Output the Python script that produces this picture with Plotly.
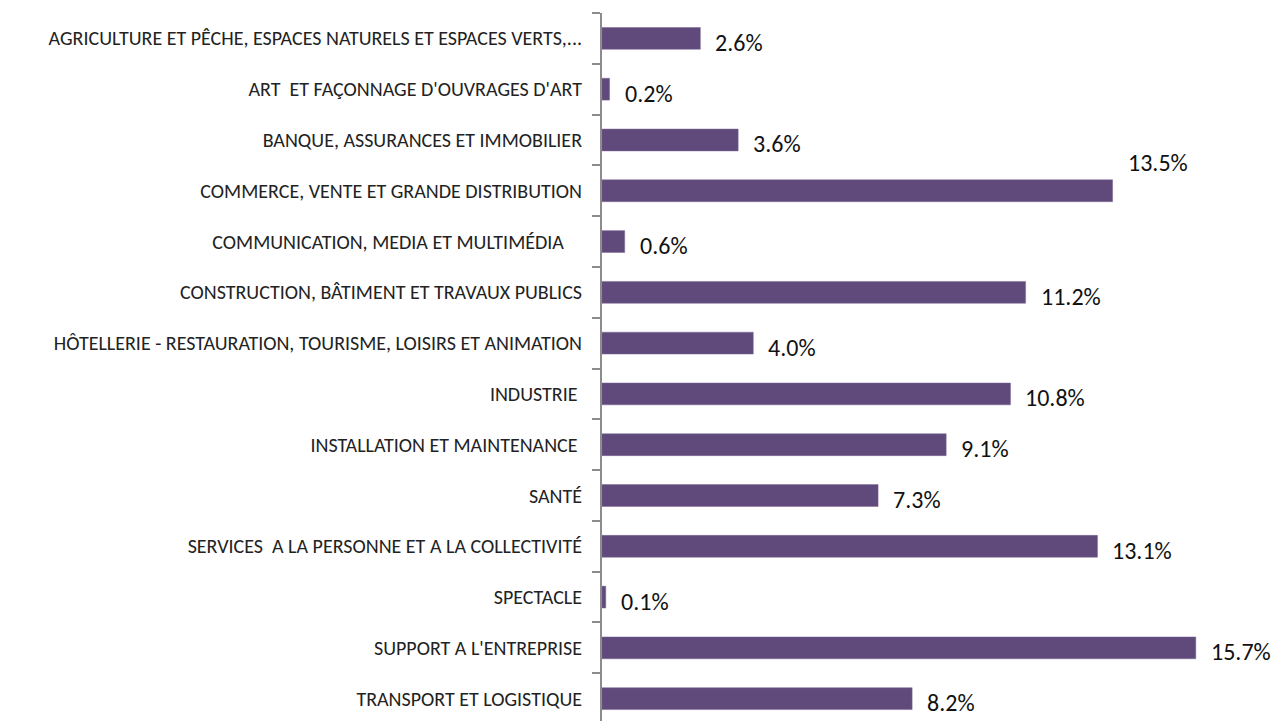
import plotly.graph_objects as go

categories = [
    "AGRICULTURE ET PÊCHE, ESPACES NATURELS ET ESPACES VERTS,...",
    "ART  ET FAÇONNAGE D'OUVRAGES D'ART",
    "BANQUE, ASSURANCES ET IMMOBILIER",
    "COMMERCE, VENTE ET GRANDE DISTRIBUTION",
    "COMMUNICATION, MEDIA ET MULTIMÉDIA    ",
    "CONSTRUCTION, BÂTIMENT ET TRAVAUX PUBLICS",
    "HÔTELLERIE - RESTAURATION, TOURISME, LOISIRS ET ANIMATION",
    "INDUSTRIE ",
    "INSTALLATION ET MAINTENANCE ",
    "SANTÉ",
    "SERVICES  A LA PERSONNE ET A LA COLLECTIVITÉ",
    "SPECTACLE",
    "SUPPORT A L'ENTREPRISE",
    "TRANSPORT ET LOGISTIQUE",
]
values = [2.6, 0.2, 3.6, 13.5, 0.6, 11.2, 4.0, 10.8, 9.1, 7.3, 13.1, 0.1, 15.7, 8.2]
label_text = [f"{v:.1f}%" for v in values]
label_yshift = [-4, -4, -4, 28, -4, -4, -4, -4, -4, -4, -4, -4, -4, -4]

FONT = "Carlito, Calibri, Lato, sans-serif"

fig = go.Figure()
fig.add_trace(go.Bar(
    x=values, y=categories, orientation="h",
    marker=dict(color="#604a7b", line=dict(color="#7a6694", width=0.5)),
    width=0.43, hoverinfo="skip",
))

for c, v, t, ys in zip(categories, values, label_text, label_yshift):
    fig.add_annotation(
        x=v, y=c, text=t, showarrow=False, xanchor="left", yanchor="middle",
        xshift=13, yshift=ys,
        font=dict(family=FONT, size=24, color="#111"),
    )

fig.update_layout(
    width=1271, height=713,
    margin=dict(l=594, r=0, t=5, b=0),
    paper_bgcolor="white", plot_bgcolor="white",
    showlegend=False,
    xaxis=dict(range=[0, 17.9], visible=False, showgrid=False, zeroline=False),
    yaxis=dict(
        type="category", range=[13.44, -0.5], autorange=False,
        showline=True, linecolor="#8c8c8c", linewidth=2,
        ticks="outside", tickson="boundaries", ticklen=8, tickcolor="#8c8c8c", tickwidth=2,
        showgrid=False, zeroline=False,
        tickfont=dict(family=FONT, size=20, color="#222"),
        ticklabelstandoff=14,
    ),
)

fig.write_html("out.html")
